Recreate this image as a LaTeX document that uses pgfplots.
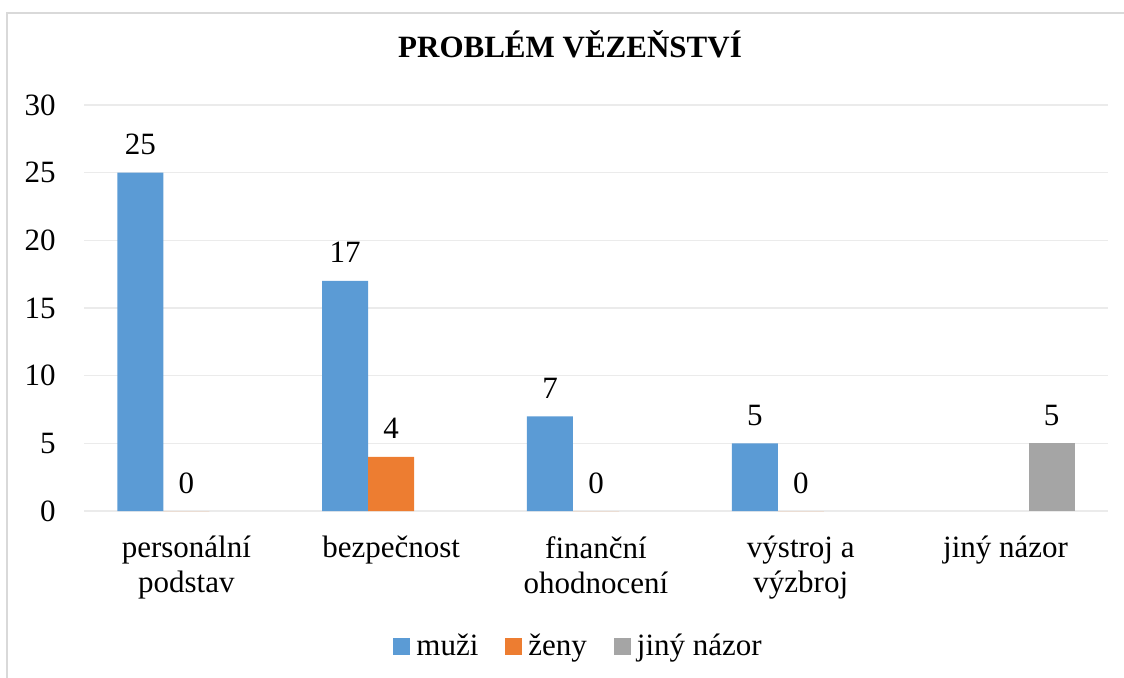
\documentclass[border=0pt]{standalone}
\usepackage{pgfplots}
\pgfplotsset{compat=1.18}
\usepackage{fontspec}
\setmainfont{Liberation Serif}
\definecolor{cblue}{HTML}{5B9BD5}
\definecolor{corange}{HTML}{ED7D31}
\definecolor{cgray}{HTML}{A5A5A5}
\definecolor{cgrid}{HTML}{EBEBEB}
\definecolor{cborder}{HTML}{D9D9D9}
\begin{document}
\begin{tikzpicture}
\useasboundingbox (-42pt,-83pt) rectangle (520pt,255.5pt);
\draw[cborder, line width=0.8pt] (-38.5pt,-100pt) -- (-38.5pt,249pt) -- (540pt,249pt);
\node[anchor=base, font=\fontsize{15.5}{17.5}\selectfont\bfseries, inner sep=0pt] at (243pt,227pt) {PROBLÉM VĚZEŇSTVÍ};
\begin{axis}[
  at={(0,0)}, anchor=south west, scale only axis,
  width=512pt, height=203pt,
  ybar=0pt, bar width=23pt,
  xmin=-0.5, xmax=4.5, ymin=0, ymax=30,
  xtick={0,1,2,3,4},
  xticklabels={{personální\\podstav},{bezpečnost},{finanční\\ohodnocení},{výstroj a\\výzbroj},{jiný názor}},
  ytick={0,5,10,15,20,25,30},
  ymajorgrids, grid style={cgrid, line width=0.75pt},
  axis line style={draw=none}, major tick length=0pt,
  /pgf/number format/assume math mode=true,
  tick label style={font=\fontsize{15.5}{17.5}\selectfont},
  xticklabel style={align=center, anchor=north, inner sep=0pt, yshift=-12.5pt},
  yticklabel style={anchor=east, inner sep=0pt, xshift=-14pt},
  nodes near coords,
  every node near coord/.append style={font=\fontsize{15.5}{17.5}\selectfont, inner sep=0pt, anchor=base, yshift=9pt, text=black},
  legend style={draw=none, fill=none, at={(0.482,0)}, anchor=center, yshift=-67.5pt,
    font=\fontsize{15.5}{17.5}\selectfont, nodes={inner sep=0pt, anchor=base west},
    /tikz/every even column/.append style={column sep=13.5pt}},
  legend columns=3,
  legend image code/.code={\fill[#1] (0pt,0pt) rectangle (8.5pt,8.5pt); \path (11.5pt,0pt);},
]
\addplot[fill=cblue, draw=none] coordinates {(0,25) (1,17) (2,7) (3,5)};
\addplot[fill=corange, draw=none] coordinates {(0,0) (1,4) (2,0) (3,0)};
\addplot[fill=cgray, draw=none] coordinates {(4,5)};
\legend{muži, ženy, jiný názor}
\end{axis}
\end{tikzpicture}
\end{document}
